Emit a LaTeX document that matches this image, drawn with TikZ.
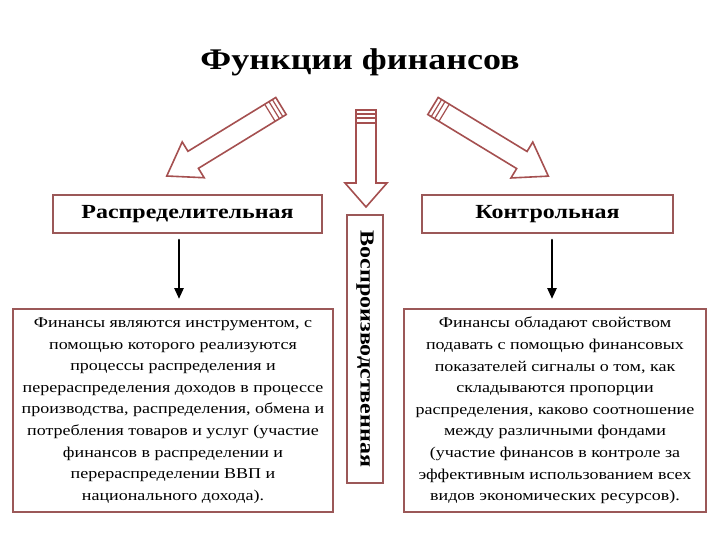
\documentclass[tikz,border=0pt]{standalone}
\usepackage{fontspec}
\setmainfont[FakeStretch=1.2]{Liberation Serif}
\usetikzlibrary{arrows.meta,calc}
\definecolor{framebrown}{RGB}{155,88,88}
\definecolor{arrowred}{RGB}{165,80,80}

\tikzset{
  headbox/.style={draw=framebrown, line width=2pt, fill=white, inner sep=0pt,
    font=\bfseries\fontsize{20}{24}\selectfont},
  textbox/.style={draw=framebrown, line width=2pt, fill=white, inner sep=0pt,
    align=center, font=\fontsize{15}{21.6}\selectfont},
  hollow/.style={draw=arrowred, line width=1.6pt, fill=white, line join=miter},
  downarrow/.style={line width=2.6pt, -{Triangle[length=11pt,width=9pt]}}
}

% hollow arrow: tail, angle, length, head length
\newcommand{\finarrow}[4]{%
  \begin{scope}[shift={#1}, rotate=#2]
    \draw[hollow] (0,-10) -- (#3-#4,-10) -- (#3-#4,-21) -- (#3,0)
      -- (#3-#4,21) -- (#3-#4,10) -- (0,10) -- cycle;
    \foreach \s in {4,8,13}{
      \draw[arrowred, line width=1.2pt] (\s,-10) -- (\s,10);
    }
  \end{scope}}

\begin{document}
\begin{tikzpicture}[x=1pt, y=-1pt, line cap=round]

\useasboundingbox[fill=white] (0,0) rectangle (720,540);

%==================================================
% Title
%==================================================
\node[anchor=base] (title) at (360,70) {\bfseries\fontsize{30}{36}\selectfont Функции финансов};

%==================================================
% Hollow arrows from the title
%==================================================
\finarrow{(281,106)}{211.5}{134}{31}
\finarrow{(366,110)}{-90}{97}{24}
\finarrow{(433,106)}{-31.3}{135}{31}

%==================================================
% Function boxes
%==================================================
\node[headbox, minimum width=269, minimum height=38] (distr) at (187.5,214)
  {Распределительная};
\node[headbox, minimum width=251, minimum height=38] (control) at (547.5,214)
  {Контрольная};
\node[headbox, rotate=-90, minimum width=268, minimum height=36] (reprod) at (365,349)
  {Воспроизводственная};

%==================================================
% Description boxes
%==================================================
\node[textbox, minimum width=320, minimum height=203] (distrtext) at (173,410.5)
  {Финансы являются инструментом, с\\
   помощью которого реализуются\\
   процессы распределения и\\
   перераспределения доходов в процессе\\
   производства, распределения, обмена и\\
   потребления товаров и услуг (участие\\
   финансов в распределении и\\
   перераспределении ВВП и\\
   национального дохода).};
\node[textbox, minimum width=302, minimum height=203] (controltext) at (555,410.5)
  {Финансы обладают свойством\\
   подавать с помощью финансовых\\
   показателей сигналы о том, как\\
   складываются пропорции\\
   распределения, каково соотношение\\
   между различными фондами\\
   (участие финансов в контроле за\\
   эффективным использованием всех\\
   видов экономических ресурсов).};

%--------------------------------------------------
% Black arrows down to the descriptions
%--------------------------------------------------
\coordinate (ltop) at (179,240);
\coordinate (rtop) at (552,240);
\draw[downarrow, shorten >=9pt] (ltop) -- (ltop |- distrtext.north);
\draw[downarrow, shorten >=9pt] (rtop) -- (rtop |- controltext.north);

\end{tikzpicture}
\end{document}
